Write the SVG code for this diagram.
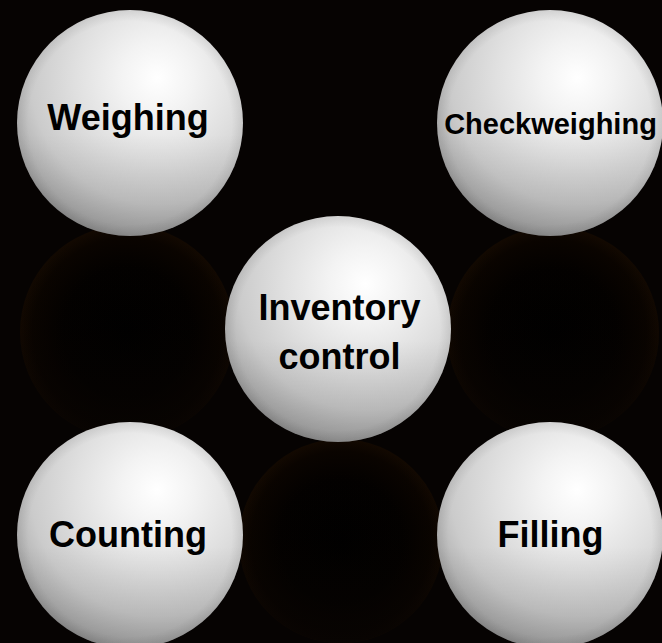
<svg xmlns="http://www.w3.org/2000/svg" width="662" height="643" viewBox="0 0 662 643">
  <defs>
    <radialGradient id="ball" cx="0.62" cy="0.3" r="0.8">
      <stop offset="0" stop-color="#ffffff"/>
      <stop offset="0.2" stop-color="#f3f3f3"/>
      <stop offset="0.45" stop-color="#e0e0e0"/>
      <stop offset="0.7" stop-color="#cbcbcb"/>
      <stop offset="0.87" stop-color="#adadad"/>
      <stop offset="1" stop-color="#8c8c8c"/>
    </radialGradient>
    <radialGradient id="rim" cx="0.5" cy="0.5" r="0.5">
      <stop offset="0.9" stop-color="#000" stop-opacity="0"/>
      <stop offset="1" stop-color="#000" stop-opacity="0.08"/>
    </radialGradient>
    <linearGradient id="shade" x1="0" y1="0" x2="0" y2="1">
      <stop offset="0.55" stop-color="#000" stop-opacity="0"/>
      <stop offset="1" stop-color="#000" stop-opacity="0.14"/>
    </linearGradient>
    <radialGradient id="refl" cx="0.5" cy="0.5" r="0.5">
      <stop offset="0" stop-color="#000000"/>
      <stop offset="0.6" stop-color="#030100"/>
      <stop offset="0.88" stop-color="#0a0400"/>
      <stop offset="1" stop-color="#130901"/>
    </radialGradient>
    <linearGradient id="reflFade" x1="0" y1="0" x2="0" y2="1">
      <stop offset="0" stop-color="#060302" stop-opacity="0"/>
      <stop offset="0.5" stop-color="#060302" stop-opacity="0.15"/>
      <stop offset="1" stop-color="#060302" stop-opacity="0.85"/>
    </linearGradient>
  </defs>
  <style>
    .ball { fill: url(#ball); }
    .rim { fill: url(#rim); }
    .shade { fill: url(#shade); }
    .refl { fill: url(#refl); }
    .fade { fill: url(#reflFade); }
    text { font-family: "Liberation Sans", Arial, sans-serif; font-weight: bold; fill: #000; text-anchor: middle; }
  </style>
  <rect width="662" height="643" fill="#060302"/>
  <g id="reflections">
    <circle class="refl" cx="127" cy="332" r="107"/>
    <circle class="fade" cx="127" cy="332" r="107"/>
    <circle class="refl" cx="553" cy="333" r="106"/>
    <circle class="fade" cx="553" cy="333" r="106"/>
    <circle class="refl" cx="341" cy="541" r="102"/>
    <circle class="fade" cx="341" cy="541" r="102"/>
  </g>
  <g id="connectors"/>
  <g id="weighing">
    <circle class="ball" cx="130" cy="123" r="113"/>
    <circle class="shade" cx="130" cy="123" r="113"/>
    <circle class="rim" cx="130" cy="123" r="113"/>
    <text x="128" y="130" font-size="36">Weighing</text>
  </g>
  <g id="checkweighing">
    <circle class="ball" cx="550" cy="123" r="113"/>
    <circle class="shade" cx="550" cy="123" r="113"/>
    <circle class="rim" cx="550" cy="123" r="113"/>
    <text x="550.5" y="134" font-size="29">Checkweighing</text>
  </g>
  <g id="inventory-control">
    <circle class="ball" cx="338" cy="329" r="113"/>
    <circle class="shade" cx="338" cy="329" r="113"/>
    <circle class="rim" cx="338" cy="329" r="113"/>
    <text x="339.5" y="320" font-size="36">Inventory</text>
    <text x="339.5" y="369" font-size="36">control</text>
  </g>
  <g id="counting">
    <circle class="ball" cx="130" cy="535" r="113"/>
    <circle class="shade" cx="130" cy="535" r="113"/>
    <circle class="rim" cx="130" cy="535" r="113"/>
    <text x="128" y="547" font-size="36">Counting</text>
  </g>
  <g id="filling">
    <circle class="ball" cx="550" cy="535" r="113"/>
    <circle class="shade" cx="550" cy="535" r="113"/>
    <circle class="rim" cx="550" cy="535" r="113"/>
    <text x="550.5" y="547" font-size="36">Filling</text>
  </g>
</svg>
